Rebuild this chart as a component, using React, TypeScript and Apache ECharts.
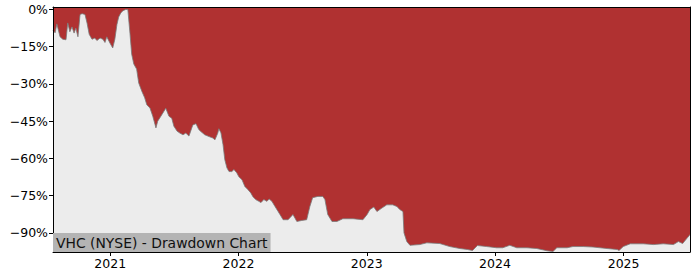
import { useEffect, useRef } from 'react';
import * as echarts from 'echarts';

const dates = [
  '2020-07-22','2020-07-28','2020-08-02','2020-08-11','2020-08-19','2020-08-28','2020-09-02','2020-09-08','2020-09-14','2020-09-20',
  '2020-09-25','2020-10-01','2020-10-07','2020-10-13','2020-10-21','2020-10-27','2020-11-02','2020-11-10','2020-11-18','2020-11-24',
  '2020-12-03','2020-12-11','2020-12-17','2020-12-22','2020-12-31','2021-01-08','2021-01-14','2021-01-20','2021-01-25','2021-01-31',
  '2021-02-06','2021-02-14','2021-02-20','2021-02-26','2021-03-03','2021-03-09','2021-03-17','2021-03-23','2021-04-01','2021-04-09',
  '2021-04-15','2021-04-24','2021-05-02','2021-05-11','2021-05-16','2021-05-25','2021-06-08','2021-06-17','2021-06-25','2021-07-01',
  '2021-07-10','2021-07-18','2021-07-27','2021-08-04','2021-08-13','2021-08-24','2021-09-02','2021-09-10','2021-09-16','2021-09-27',
  '2021-10-09','2021-10-20','2021-10-26','2021-11-03','2021-11-06','2021-11-12','2021-11-18','2021-11-23','2021-11-29','2021-12-05',
  '2021-12-13','2021-12-19','2021-12-27','2022-01-02','2022-01-11','2022-01-19','2022-01-28','2022-02-05','2022-02-11','2022-02-19',
  '2022-02-28','2022-03-06','2022-03-14','2022-03-23','2022-03-29','2022-04-06','2022-04-15','2022-04-29','2022-05-08','2022-05-22',
  '2022-06-05','2022-06-16','2022-06-30','2022-07-14','2022-07-23','2022-07-31','2022-08-15','2022-08-29','2022-09-04','2022-09-12',
  '2022-09-24','2022-10-08','2022-10-25','2022-11-23','2022-12-21','2023-01-02','2023-01-10','2023-01-21','2023-01-30','2023-02-13',
  '2023-02-27','2023-03-16','2023-03-28','2023-04-05','2023-04-14','2023-04-17','2023-04-25','2023-05-04','2023-06-01','2023-06-21',
  '2023-07-28','2023-08-25','2023-09-23','2023-10-15','2023-10-29','2023-11-12','2023-12-08','2024-01-06','2024-01-23','2024-02-12',
  '2024-03-03','2024-04-01','2024-04-29','2024-05-28','2024-06-14','2024-06-25','2024-07-24','2024-08-10','2024-09-08','2024-10-06',
  '2024-11-15','2024-12-14','2024-12-19','2024-12-31','2025-01-20','2025-02-26','2025-03-27','2025-04-24','2025-05-23','2025-06-06',
  '2025-06-18','2025-07-02','2025-07-09',
];

const drawdown = [
  -8.5, -9.4, -5.8, -11, -12, -12.2, -5.4, -9, -7, -9.5,
  -7.5, -11, -2, -1.7, -2, -5.5, -10, -12, -11.5, -12.5,
  -11.5, -12, -13.3, -11, -13.5, -15.5, -12, -6, -3, -1.4,
  -0.5, 0, 0, -9.5, -18, -22, -24, -29.6, -33, -35.6,
  -38.4, -39.7, -43, -47.7, -45, -43, -39.8, -43, -43.8, -47,
  -49, -49.8, -50.5, -49.8, -51, -46.5, -46, -48.4, -49.2, -50.5,
  -51.2, -51.8, -52.5, -49.8, -48, -49.7, -54.5, -60.5, -63.8, -65.3,
  -65.3, -64.5, -65.8, -67.4, -68.6, -71.3, -72.6, -73.9, -75.4, -76.6,
  -77.3, -77.8, -76.6, -77.3, -76.3, -77.3, -79.4, -82.6, -84.7, -84.7,
  -82.6, -85.4, -85, -84.7, -79.4, -75.8, -75.3, -75.3, -76.6, -82.6,
  -85.4, -85.4, -84.3, -84.3, -84.7, -82.6, -80.6, -79.6, -81.4, -80,
  -78.7, -78.7, -79.4, -80.6, -81.4, -90, -93.5, -95, -94.7, -94,
  -94.3, -95.5, -96.3, -96.7, -97.1, -95.1, -95.5, -96, -96, -95,
  -96, -96, -96.3, -97.2, -97.5, -96, -96, -95.5, -95.5, -95.7,
  -96.3, -96.7, -97.1, -95.5, -94.4, -94.4, -94.7, -94.4, -94.7, -93.5,
  -94.3, -91.9, -90.7,
];

const yTicks = [0, -15, -30, -45, -60, -75, -90];
const xTickYears = [2021, 2022, 2023, 2024, 2025];
const xStart = '2020-07-22';
const xEnd = '2025-07-09';
const chartLabel = 'VHC (NYSE) - Drawdown Chart';

const ts = (s: string) => {
  const [y, m, d] = s.split('-').map(Number);
  return new Date(y, m - 1, d).getTime();
};

export default function App() {
  const ref = useRef<HTMLDivElement>(null);

  useEffect(() => {
    const chart = echarts.init(ref.current!, null, { renderer: 'svg' });
    const font = 'DejaVu Sans';
    const xMin = ts(xStart);
    const xMax = ts(xEnd);
    const yMin = -97.7;
    const yMax = 1;
    const yearTs = xTickYears.map((y) => new Date(y, 0, 1).getTime());
    const fmtPct = (v: number) => `${v}%`.replace('-', '\u2212');

    chart.setOption({
      animation: false,
      grid: {
        left: 53, right: 10, top: 7, bottom: 28,
        show: true, backgroundColor: '#b03131', borderWidth: 0,
      },
      xAxis: [
        {
          type: 'value', min: xMin, max: xMax, z: 5,
          axisLine: { show: true, onZero: false, lineStyle: { color: '#000', width: 1 } },
          axisTick: { show: true, length: 4, customValues: yearTs, lineStyle: { color: '#000' } },
          axisLabel: {
            customValues: yearTs,
            formatter: (v: number) => String(new Date(v).getFullYear()),
            color: '#000', fontFamily: font, fontSize: 12.5, margin: 5,
          },
          splitLine: { show: false },
        },
        {
          type: 'value', position: 'top', min: xMin, max: xMax, z: 5,
          axisLine: { show: true, onZero: false, lineStyle: { color: '#000', width: 1 } },
          axisTick: { show: false }, axisLabel: { show: false }, splitLine: { show: false },
        },
      ],
      yAxis: [
        {
          type: 'value', min: yMin, max: yMax, z: 5,
          axisLine: { show: true, onZero: false, lineStyle: { color: '#000', width: 1 } },
          axisTick: { show: true, length: 4, customValues: yTicks, lineStyle: { color: '#000' } },
          axisLabel: {
            customValues: yTicks, formatter: fmtPct,
            color: '#000', fontFamily: font, fontSize: 12.5, margin: 5,
          },
          splitLine: { show: false },
        },
        {
          type: 'value', position: 'right', min: yMin, max: yMax, z: 5,
          axisLine: { show: true, onZero: false, lineStyle: { color: '#000', width: 1 } },
          axisTick: { show: false }, axisLabel: { show: false }, splitLine: { show: false },
        },
      ],
      series: [
        {
          type: 'line',
          xAxisIndex: 0, yAxisIndex: 0,
          data: dates.map((d, i) => [ts(d), drawdown[i]]),
          showSymbol: false, symbol: 'none',
          lineStyle: { color: '#7a7a7a', width: 0.8 },
          areaStyle: { color: '#ececec', opacity: 1, origin: 'start' },
          z: 2,
        },
      ],
      graphic: [
        {
          type: 'text', left: 53, top: 233, z: 10,
          style: {
            text: chartLabel, fontFamily: font, fontSize: 13.9, lineHeight: 15,
            fill: '#111', backgroundColor: '#b4b4b4', padding: [2, 3, 2, 3],
          },
        },
      ],
    });

    return () => chart.dispose();
  }, []);

  return <div ref={ref} style={{ position: 'absolute', left: 0, top: 0, width: 700, height: 280 }} />;
}
